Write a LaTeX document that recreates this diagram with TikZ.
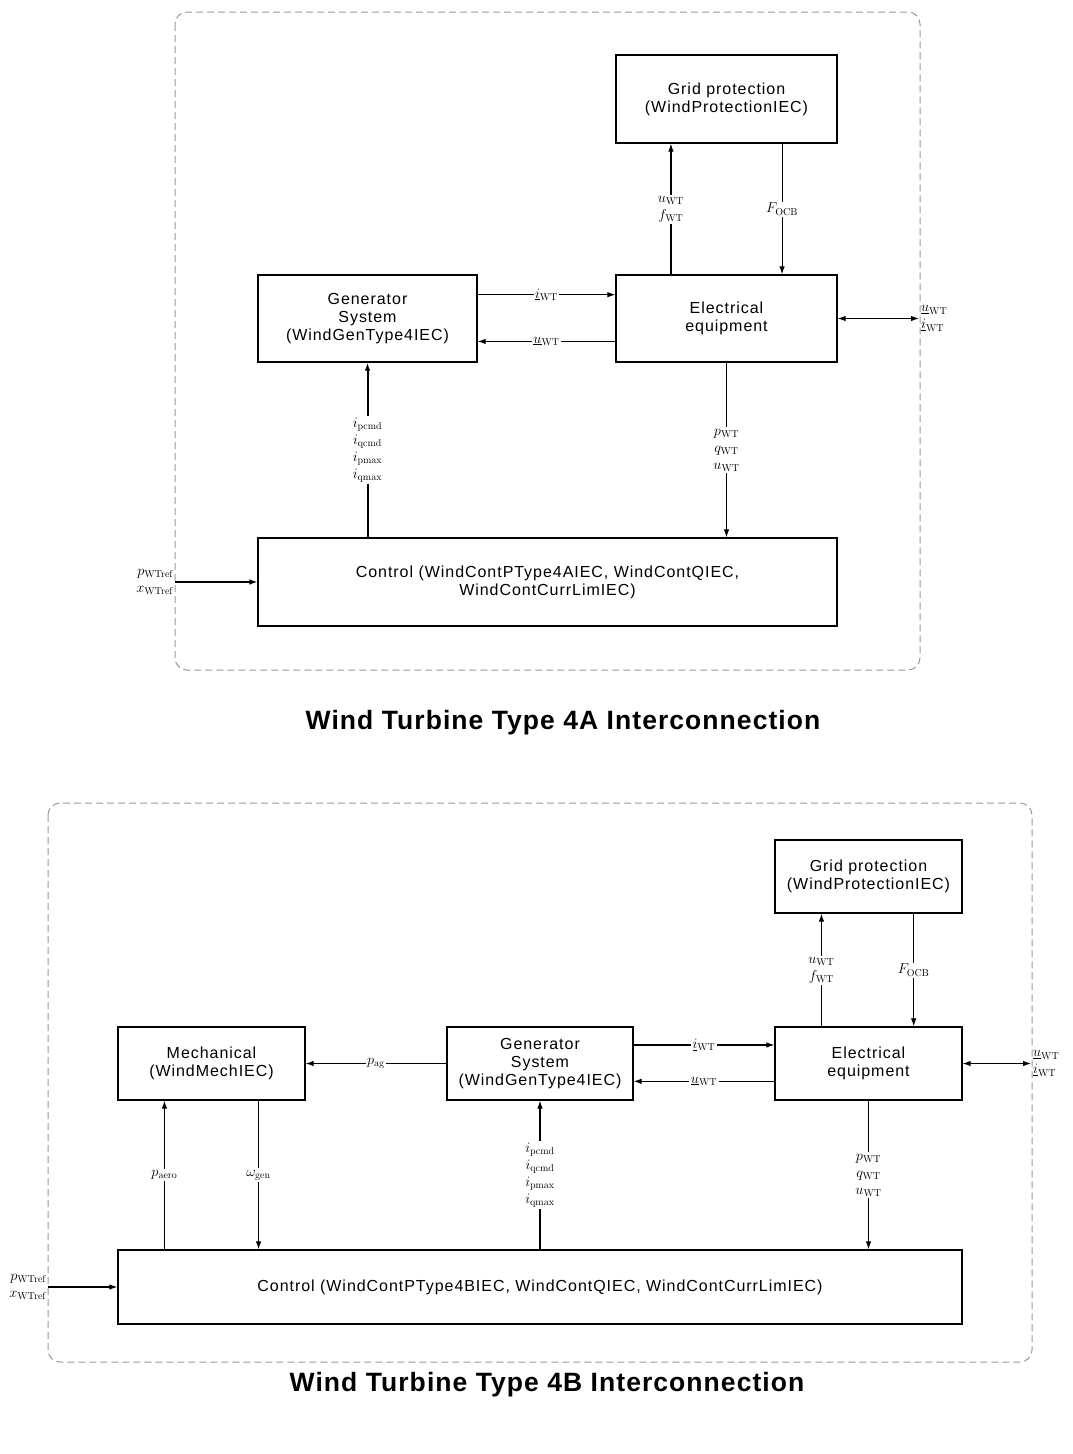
\documentclass[tikz,border=0pt]{standalone}
\usepackage[no-math]{fontspec}
\setmainfont{Liberation Sans}
\usetikzlibrary{arrows.meta,calc,positioning}

\begin{document}
\begin{tikzpicture}[x=1pt, y=-1pt,
    box/.style 2 args={rectangle, draw, line width=1.2pt, minimum width=#1, minimum height=#2, align=center, inner sep=0pt, font=\fontsize{16}{18}\selectfont\addfontfeatures{LetterSpace=6}},
    frame/.style={draw=gray!80, dash pattern=on 7pt off 4pt, line width=1pt, rounded corners=12pt},
    sig/.style={-{Latex[length=8pt,width=5.5pt]}, line width=1.1pt},
    both/.style={{Latex[length=8pt,width=5.5pt]}-{Latex[length=8pt,width=5.5pt]}, line width=1.1pt},
    lbl/.style={fill=white, inner sep=1.5pt, align=center, font=\fontsize{14.5}{17}\selectfont},
    side/.style={inner sep=1pt, font=\fontsize{14.5}{17}\selectfont},
    heading/.style={font=\fontsize{26.5}{30}\selectfont\bfseries\addfontfeatures{LetterSpace=4}}
]
    \useasboundingbox (0,0) rectangle (1073,1454);

    % Type 4A
    \draw[frame] (175,12) rectangle (920,670);
    \node[box={221pt}{88pt}] (gridA) at (726.5,99) {Grid protection\\(WindProtectionIEC)};
    \node[box={221pt}{87pt}] (elecA) at (726.5,318.5) {Electrical\\equipment};
    \node[box={219pt}{87pt}] (genA) at (367.5,318.5) {Generator\\System\\(WindGenType4IEC)};
    \node[box={579pt}{88pt}] (ctrlA) at (547.5,582) {Control (WindContPType4AIEC, WindContQIEC,\\WindContCurrLimIEC)};
    \coordinate (outA) at (919,318.5);
    \coordinate (inA) at (175,582);

    \draw[sig] ($(elecA.north west)!.25!(elecA.north east)$) -- node[lbl] {$u_{\mathrm{WT}}$\\$f_{\mathrm{WT}}$} ($(gridA.south west)!.25!(gridA.south east)$);
    \draw[sig] ($(gridA.south west)!.75!(gridA.south east)$) -- node[lbl] {$F_{\mathrm{OCB}}$} ($(elecA.north west)!.75!(elecA.north east)$);
    \draw[sig] ($(genA.north east)!.23!(genA.south east)$) -- node[lbl] {$\underline{i}_{\mathrm{WT}}$} ($(elecA.north west)!.23!(elecA.south west)$);
    \draw[sig] ($(elecA.north west)!.76!(elecA.south west)$) -- node[lbl] {$\underline{u}_{\mathrm{WT}}$} ($(genA.north east)!.76!(genA.south east)$);
    \draw[both] (elecA.east) -- (outA);
    \node[side, anchor=west, align=left] (outlblA) at ($(outA)+(1,0)$) {$\underline{u}_{\mathrm{WT}}$\\$\underline{i}_{\mathrm{WT}}$};
    \draw[sig] (elecA.south) -- node[lbl] {$p_{\mathrm{WT}}$\\$q_{\mathrm{WT}}$\\$u_{\mathrm{WT}}$} (elecA.south |- ctrlA.north);
    \draw[sig, line width=2pt] (genA.south |- ctrlA.north) -- node[lbl] {$i_{\mathrm{pcmd}}$\\$i_{\mathrm{qcmd}}$\\$i_{\mathrm{pmax}}$\\$i_{\mathrm{qmax}}$} (genA.south);
    \draw[sig] (inA) -- (ctrlA.west);
    \node[side, anchor=east, align=right] (inlblA) at (inA) {$p_{\mathrm{WTref}}$\\$x_{\mathrm{WTref}}$};

    \node[heading] (titleA) at (563,723) {Wind Turbine Type 4A Interconnection};

    % Type 4B
    \draw[frame] (48,803) rectangle (1032,1362);
    \node[box={187pt}{73pt}] (gridB) at (868.5,876.5) {Grid protection\\(WindProtectionIEC)};
    \node[box={187pt}{73pt}] (elecB) at (868.5,1063.5) {Electrical\\equipment};
    \node[box={186pt}{73pt}] (genB) at (540,1063.5) {Generator\\System\\(WindGenType4IEC)};
    \node[box={187pt}{73pt}] (mechB) at (211.5,1063.5) {Mechanical\\(WindMechIEC)};
    \node[box={844pt}{74pt}] (ctrlB) at (540,1287) {Control (WindContPType4BIEC, WindContQIEC, WindContCurrLimIEC)};
    \coordinate (outB) at (1031,1063.5);
    \coordinate (inB) at (48,1287);
    \coordinate (aeroB) at ($(mechB.south west)!.25!(mechB.south east)$);
    \coordinate (genspB) at ($(mechB.south west)!.75!(mechB.south east)$);

    \draw[sig] ($(elecB.north west)!.25!(elecB.north east)$) -- node[lbl] {$u_{\mathrm{WT}}$\\$f_{\mathrm{WT}}$} ($(gridB.south west)!.25!(gridB.south east)$);
    \draw[sig] ($(gridB.south west)!.74!(gridB.south east)$) -- node[lbl] {$F_{\mathrm{OCB}}$} ($(elecB.north west)!.74!(elecB.north east)$);
    \draw[sig] ($(genB.north east)!.25!(genB.south east)$) -- node[lbl] {$\underline{i}_{\mathrm{WT}}$} ($(elecB.north west)!.25!(elecB.south west)$);
    \draw[sig] ($(elecB.north west)!.74!(elecB.south west)$) -- node[lbl] {$\underline{u}_{\mathrm{WT}}$} ($(genB.north east)!.74!(genB.south east)$);
    \draw[both] (elecB.east) -- (outB);
    \node[side, anchor=west, align=left] (outlblB) at ($(outB)+(1,0)$) {$\underline{u}_{\mathrm{WT}}$\\$\underline{i}_{\mathrm{WT}}$};
    \draw[sig] (genB.west) -- node[lbl] {$p_{\mathrm{ag}}$} (mechB.east);
    \draw[sig] (genspB) -- node[lbl] {$\omega_{\mathrm{gen}}$} (genspB |- ctrlB.north);
    \draw[sig] (aeroB |- ctrlB.north) -- node[lbl] {$p_{\mathrm{aero}}$} (aeroB);
    \draw[sig] (genB.south |- ctrlB.north) -- node[lbl] {$i_{\mathrm{pcmd}}$\\$i_{\mathrm{qcmd}}$\\$i_{\mathrm{pmax}}$\\$i_{\mathrm{qmax}}$} (genB.south);
    \draw[sig] (elecB.south) -- node[lbl] {$p_{\mathrm{WT}}$\\$q_{\mathrm{WT}}$\\$u_{\mathrm{WT}}$} (elecB.south |- ctrlB.north);
    \draw[sig] (inB) -- (ctrlB.west);
    \node[side, anchor=east, align=right] (inlblB) at (inB) {$p_{\mathrm{WTref}}$\\$x_{\mathrm{WTref}}$};

    \node[heading] (titleB) at (547,1385) {Wind Turbine Type 4B Interconnection};
\end{tikzpicture}
\end{document}
